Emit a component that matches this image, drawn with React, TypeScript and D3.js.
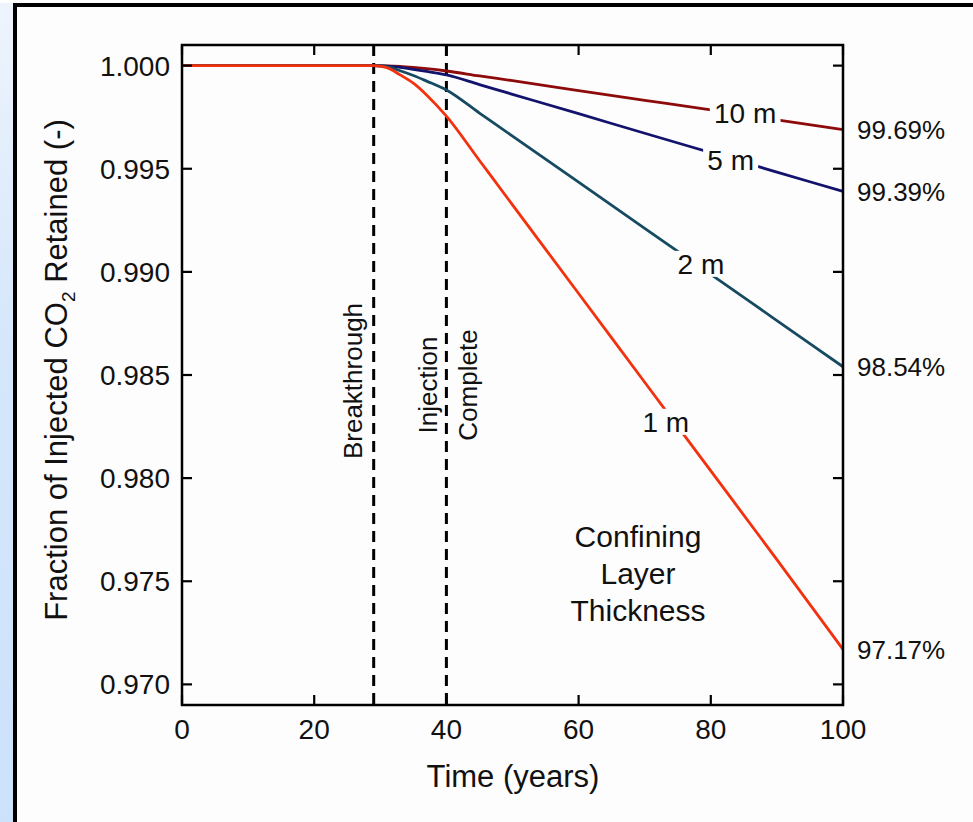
import React from "react";
import * as d3 from "d3";

const years = [0, 10, 20, 29, 31, 33, 35, 37, 40, 45, 50, 60, 70, 80, 90, 100];
const retained10m = [1, 1, 1, 1, 0.99999, 0.99996, 0.99991, 0.99985, 0.99974, 0.9995, 0.99927, 0.99879, 0.99832, 0.99785, 0.99737, 0.9969];
const retained5m = [1, 1, 1, 1, 0.99998, 0.99992, 0.99982, 0.99972, 0.99955, 0.99908, 0.99861, 0.99767, 0.99672, 0.99578, 0.99484, 0.9939];
const retained2m = [1, 1, 1, 1, 0.99995, 0.99975, 0.99952, 0.99925, 0.99882, 0.9977, 0.99658, 0.99435, 0.99211, 0.98988, 0.98764, 0.9854];
const retained1m = [1, 1, 1, 1, 0.9999, 0.99955, 0.99915, 0.99858, 0.99755, 0.9954, 0.99325, 0.98895, 0.98465, 0.98035, 0.97605, 0.9717];

const seriesNames = ["10 m", "5 m", "2 m", "1 m"];
const seriesValues = [retained10m, retained5m, retained2m, retained1m];
const seriesColors = ["#8e0b0b", "#13136e", "#154a60", "#f2310f"];
const endLabels = ["99.69%", "99.39%", "98.54%", "97.17%"];
// inline label anchor (year, value at text centre)
const labelYears = [85.2, 83, 78.5, 73.2];
const labelValues = [0.99771, 0.99543, 0.99039, 0.98273];

const xTicks = [0, 20, 40, 60, 80, 100];
const yTicks = [0.97, 0.975, 0.98, 0.985, 0.99, 0.995, 1.0];

const events = [
  { year: 29, lines: ["Breakthrough"] },
  { year: 40, lines: ["Injection", "Complete"] },
];
const noteLines = ["Confining", "Layer", "Thickness"];

const FONT = "'Liberation Sans', Arial, Helvetica, sans-serif";
const BG = "#fdfdfd";

export default function App() {
  const W = 973;
  const H = 822;
  const left = 182, right = 843, top = 45, bottom = 705;
  const x = d3.scaleLinear().domain([0, 100]).range([left, right]);
  const y = d3.scaleLinear().domain([0.969, 1.001]).range([bottom, top]);
  const line = d3
    .line<number>()
    .x((_, i) => x(years[i]))
    .y((v) => y(v))
    .curve(d3.curveMonotoneX);
  const tickLen = 10;

  return (
    <svg
      width={W}
      height={H}
      style={{ position: "absolute", left: 0, top: 0, fontFamily: FONT }}
    >
      <defs>
        <linearGradient id="side" x1="0" y1="0" x2="0" y2="1">
          <stop offset="0" stopColor="#eef4fc" />
          <stop offset="0.4" stopColor="#d6e7fb" />
          <stop offset="1" stopColor="#cce2fb" />
        </linearGradient>
      </defs>
      <rect x={0} y={0} width={W} height={H} fill={BG} />
      <rect x={0} y={0} width={13} height={H} fill="url(#side)" />
      <rect x={0} y={0} width={W} height={3} fill="#ffffff" />
      <line x1={13} x2={W} y1={5} y2={5} stroke="#000" strokeWidth={4} />
      <line x1={15} x2={15} y1={3} y2={H} stroke="#000" strokeWidth={4} />

      {/* event dashed lines */}
      {events.map((e) => (
        <line
          key={e.year}
          x1={x(e.year)}
          x2={x(e.year)}
          y1={top}
          y2={bottom}
          stroke="#000"
          strokeWidth={3}
          strokeDasharray="11,7"
        />
      ))}

      {/* series */}
      {seriesValues.map((vals, i) => (
        <path
          key={seriesNames[i]}
          d={line(vals) || ""}
          fill="none"
          stroke={seriesColors[i]}
          strokeWidth={2.8}
        />
      ))}

      {/* inline labels with gap in line */}
      {seriesNames.map((n, i) => {
        const w = n.length * 0.56 * 28 + 8;
        const cx = x(labelYears[i]);
        const cy = y(labelValues[i]);
        return (
          <g key={n}>
            <rect x={cx - w / 2} y={cy - 13} width={w} height={26} fill={BG} />
            <text
              x={cx}
              y={cy}
              dy="0.36em"
              textAnchor="middle"
              fontSize={28}
              fill="#111"
            >
              {n}
            </text>
          </g>
        );
      })}

      {/* end labels */}
      {seriesValues.map((vals, i) => (
        <text
          key={endLabels[i]}
          x={right + 14}
          y={y(vals[vals.length - 1])}
          dy="0.36em"
          fontSize={26}
          fill="#111"
        >
          {endLabels[i]}
        </text>
      ))}

      {/* frame */}
      <rect
        x={left}
        y={top}
        width={right - left}
        height={bottom - top}
        fill="none"
        stroke="#000"
        strokeWidth={2.5}
      />
      {xTicks.map((t) => (
        <g key={"x" + t}>
          <line x1={x(t)} x2={x(t)} y1={bottom} y2={bottom - tickLen} stroke="#000" strokeWidth={2.2} />
          <line x1={x(t)} x2={x(t)} y1={top} y2={top + tickLen} stroke="#000" strokeWidth={2.2} />
          <text x={x(t)} y={bottom + 34} textAnchor="middle" fontSize={28} fill="#111">
            {t}
          </text>
        </g>
      ))}
      {yTicks.map((t) => (
        <g key={"y" + t}>
          <line x1={left} x2={left + tickLen} y1={y(t)} y2={y(t)} stroke="#000" strokeWidth={2.2} />
          <line x1={right} x2={right - tickLen} y1={y(t)} y2={y(t)} stroke="#000" strokeWidth={2.2} />
          <text x={left - 12} y={y(t)} dy="0.36em" textAnchor="end" fontSize={28} fill="#111">
            {d3.format(".3f")(t)}
          </text>
        </g>
      ))}

      {/* event labels */}
      <text transform={`translate(362,381) rotate(-90)`} textAnchor="middle" fontSize={26} fill="#111">
        {events[0].lines[0]}
      </text>
      <text transform={`translate(437,385) rotate(-90)`} textAnchor="middle" fontSize={26} fill="#111">
        {events[1].lines[0]}
      </text>
      <text transform={`translate(477,385) rotate(-90)`} textAnchor="middle" fontSize={26} fill="#111">
        {events[1].lines[1]}
      </text>

      {/* note */}
      {noteLines.map((l, i) => (
        <text key={l} x={638} y={547 + i * 37} textAnchor="middle" fontSize={30} fill="#111">
          {l}
        </text>
      ))}

      {/* axis titles */}
      <text x={513} y={787} textAnchor="middle" fontSize={31} fill="#111">
        Time (years)
      </text>
      <text transform={`translate(67,370) rotate(-90)`} textAnchor="middle" fontSize={31} fill="#111">
        Fraction of Injected CO
        <tspan fontSize={19} dy={8}>2</tspan>
        <tspan dy={-8}> Retained (-)</tspan>
      </text>
    </svg>
  );
}
